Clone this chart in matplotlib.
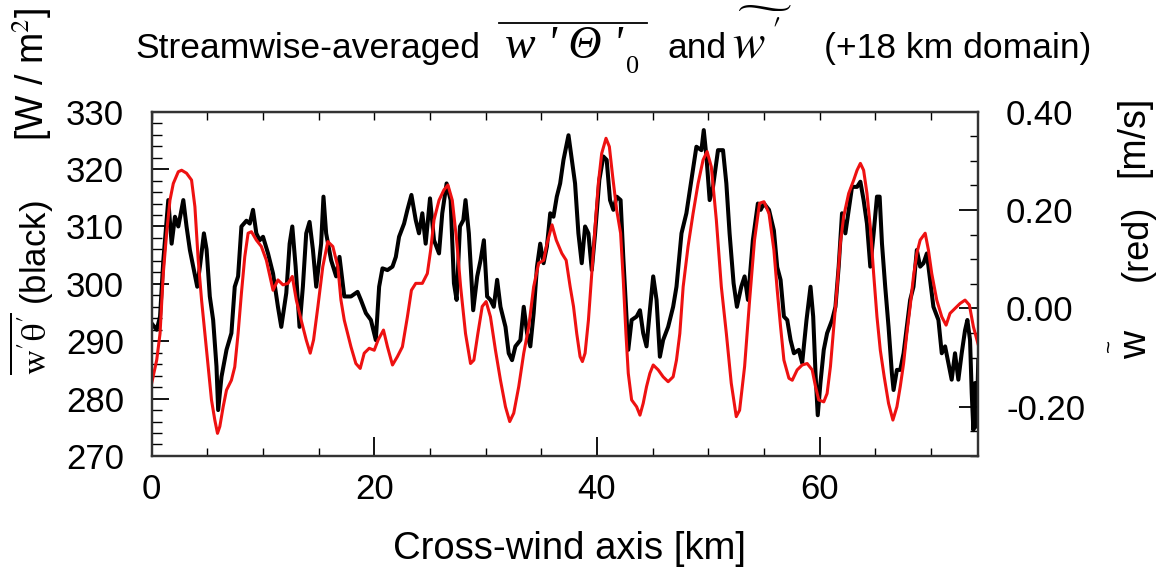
import numpy as np
import matplotlib.pyplot as plt
from matplotlib.lines import Line2D
from matplotlib.ticker import MultipleLocator, FormatStrFormatter

plt.rcParams['font.family'] = ['Liberation Sans', 'DejaVu Sans']
plt.rcParams['mathtext.fontset'] = 'stix'
plt.rcParams['axes.unicode_minus'] = False

# streamwise-averaged surface heat flux w'theta' [W/m2] (black)
flux_km = [0, 0.45, 0.75, 1.04, 1.49, 1.79, 2.09, 2.39, 2.84, 3.13, 3.43, 3.73, 4.09, 4.33, 4.69, 4.93,
           5.22, 5.52, 5.82, 5.97, 6.27, 6.72, 7.16, 7.46, 7.76, 8.06, 8.51, 8.81, 9.10, 9.40, 9.70, 10.0,
           10.45, 10.9, 11.34, 11.64, 12.09, 12.39, 12.63, 12.93, 13.28, 13.58, 13.88, 14.18, 14.48, 14.78,
           15.22, 15.43, 15.67, 16.12, 16.57, 16.87, 17.3, 17.9, 18.49, 18.79, 19.24, 19.69, 20.13, 20.43,
           20.73, 21.18, 21.63, 21.93, 22.22, 22.67, 22.97, 23.33, 23.72, 24.01, 24.31, 24.61, 25.0, 25.36,
           25.81, 26.1, 26.49, 26.85, 27.15, 27.39, 27.69, 27.99, 28.19, 28.49, 28.88, 29.24, 29.54, 29.84,
           30.13, 30.43, 30.73, 31.03, 31.33, 31.78, 32.07, 32.37, 32.67, 33.12, 33.42, 33.72, 34.01, 34.31,
           34.61, 34.9, 35.2, 35.5, 35.8, 36.09, 36.39, 36.69, 36.99, 37.44, 37.74, 38.03, 38.33, 38.63,
           38.93, 39.23, 39.53, 39.83, 40.21, 40.57, 40.87, 41.17, 41.47, 41.77, 42.12, 42.36, 42.6, 42.81,
           43.11, 43.56, 43.86, 44.15, 44.45, 44.75, 45.05, 45.35, 45.65, 45.94, 46.39, 46.84, 47.14, 47.59,
           48.03, 48.48, 48.93, 49.38, 49.59, 49.83, 50.12, 50.42, 50.87, 51.32, 51.62, 51.91, 52.27, 52.57,
           52.96, 53.26, 53.56, 54.0, 54.45, 54.7, 55.0, 55.45, 55.89, 56.19, 56.49, 56.79, 57.09, 57.39,
           57.69, 58.13, 58.43, 58.82, 59.18, 59.42, 59.63, 59.83, 60.07, 60.37, 60.67, 61.12, 61.42, 61.71,
           62.01, 62.31, 62.61, 62.91, 63.36, 63.66, 63.95, 64.25, 64.55, 64.85, 65.15, 65.39, 65.6, 65.89,
           66.19, 66.49, 66.64, 66.94, 67.24, 67.54, 67.83, 68.13, 68.43, 68.73, 69.03, 69.33, 69.63, 69.92,
           70.22, 70.67, 70.97, 71.27, 71.57, 71.86, 72.16, 72.46, 72.76, 73.06, 73.27, 73.51, 73.66, 73.81,
           73.96, 74.1, 74.25]
flux = [293.1, 292.0, 294.3, 304.0, 314.6, 307.0, 311.7, 310.0, 314.6, 310.0, 305.9, 303.0, 299.5, 303.0, 308.8, 306.0,
        297.8, 293.7, 285.6, 278.0, 283.8, 288.5, 291.4, 299.5, 301.3, 310.0, 311.0, 310.5, 312.9, 308.8, 307.6, 308.2,
        305.3, 301.8, 296.0, 292.5, 298.4, 307.0, 310.0, 303.0, 292.5, 299.5, 308.8, 310.8, 306.0, 299.5,
        307.0, 315.2, 308.8, 304.1, 301.3, 304.7, 297.8, 297.8, 298.6, 297.2, 294.9, 293.7, 290.2, 299.5,
        302.7, 302.4, 303.0, 304.7, 308.2, 310.5, 312.9, 315.5, 311.1, 308.8, 312.3, 307.0, 314.9, 307.6,
        305.3, 312.3, 317.5, 314.6, 300.1, 297.2, 310.0, 311.1, 314.6, 308.8, 295.4, 301.3, 304.1, 307.6,
        297.8, 297.2, 296.0, 300.7, 296.0, 292.5, 287.9, 286.7, 289.1, 290.2, 296.0, 291.4, 289.1, 294.9,
        303.0, 307.0, 303.6, 306.5, 312.3, 311.7, 315.2, 317.5, 321.6, 325.9, 321.6, 317.5, 308.8, 303.6,
        310.0, 308.8, 302.4, 308.8, 318.1, 322.2, 321.6, 314.6, 312.9, 315.2, 314.6, 304.7, 296.0, 288.5,
        293.7, 294.3, 295.4, 291.4, 289.1, 295.4, 301.3, 297.2, 287.3, 290.2, 292.5, 296.0, 299.5, 308.8,
        312.3, 318.1, 323.9, 323.3, 326.8, 322.2, 314.6, 316.9, 323.3, 323.3, 317.5, 308.8, 300.1, 296.0,
        299.5, 301.3, 297.2, 307.6, 314.0, 312.9, 314.0, 312.9, 309.3, 302.9, 300.7, 294.3, 293.7, 290.2,
        287.9, 288.5, 286.2, 293.7, 299.5, 294.3, 284.4, 277.1, 282.7, 288.5, 291.4, 293.7, 296.0, 303.0,
        312.3, 308.8, 312.9, 316.9, 316.9, 317.8, 314.6, 310.5, 303.0, 308.8, 315.2, 315.2, 307.0, 299.5,
        292.5, 284.4, 281.5, 285.0, 285.0, 287.9, 292.5, 297.2, 299.5, 305.9, 303.0, 303.6, 305.3, 300.7,
        296.0, 293.7, 287.9, 289.1, 286.2, 283.3, 287.9, 283.3, 287.9, 291.9, 293.7, 290.2, 281.0, 274.5,
        282.7, 275.1, 286.7]

# streamwise-averaged vertical velocity w~ [m/s] (red)
w_km = [0, 0.45, 0.75, 1.04, 1.34, 1.64, 1.94, 2.39, 2.69, 3.13, 3.58, 3.88, 4.18, 4.48, 4.78, 5.07,
        5.37, 5.67, 5.91, 6.12, 6.42, 6.72, 7.16, 7.46, 7.76, 8.06, 8.36, 8.66, 8.96, 9.40, 9.85, 10.3,
        10.9, 11.34, 11.79, 12.24, 12.63, 12.99, 13.43, 13.88, 14.24, 14.54, 14.93, 15.37, 15.82, 16.27,
        16.72, 17.0, 17.3, 17.9, 18.34, 18.73, 19.09, 19.54, 19.99, 20.34, 20.82, 21.18, 21.63, 22.07,
        22.52, 22.97, 23.33, 23.72, 24.31, 24.76, 25.06, 25.36, 25.81, 26.25, 26.61, 27.0, 27.39, 27.75,
        28.19, 28.64, 28.94, 29.3, 29.69, 30.04, 30.43, 30.88, 31.33, 31.78, 32.16, 32.52, 32.97, 33.42,
        33.87, 34.31, 34.76, 35.21, 35.51, 35.96, 36.34, 36.84, 37.23, 37.59, 37.89, 38.18, 38.48, 38.69,
        38.93, 39.23, 39.53, 39.83, 40.12, 40.42, 40.81, 41.11, 41.41, 41.77, 42.12, 42.36, 42.6, 42.81,
        43.11, 43.56, 43.86, 44.15, 44.45, 44.75, 45.05, 45.5, 45.94, 46.39, 46.84, 47.14, 47.44, 47.74,
        48.18, 48.63, 49.08, 49.53, 49.89, 50.27, 50.72, 51.17, 51.62, 52.06, 52.51, 52.81, 53.26, 53.71,
        54.15, 54.6, 55.0, 55.45, 55.89, 56.19, 56.49, 56.79, 57.24, 57.54, 57.98, 58.43, 58.88, 59.33,
        59.63, 59.92, 60.37, 60.67, 60.97, 61.27, 61.57, 61.86, 62.16, 62.61, 63.06, 63.36, 63.66, 63.95,
        64.25, 64.55, 64.85, 65.15, 65.45, 65.8, 66.19, 66.58, 66.94, 67.24, 67.54, 67.83, 68.13, 68.43,
        68.73, 69.03, 69.48, 69.77, 70.07, 70.52, 70.97, 71.36, 71.71, 72.16, 72.61, 73.06, 73.45, 73.81,
        74.25]
w_red = [-0.152, -0.105, -0.051, 0.071, 0.153, 0.220, 0.254, 0.278, 0.281, 0.275, 0.261, 0.207, 0.098, 0.017, -0.051, -0.119,
         -0.186, -0.227, -0.254, -0.240, -0.200, -0.166, -0.146, -0.119, -0.051, 0.031, 0.105, 0.153, 0.156, 0.139, 0.126, 0.098,
         0.037, 0.058, 0.048, 0.051, 0.065, 0.017, -0.024, -0.064, -0.091, -0.064, 0.004, 0.085, 0.136, 0.126,
         0.085, 0.017, -0.024, -0.078, -0.112, -0.122, -0.091, -0.081, -0.085, -0.064, -0.044, -0.078, -0.115, -0.098,
         -0.078, -0.017, 0.037, 0.051, 0.051, 0.071, 0.119, 0.180, 0.220, 0.241, 0.251, 0.220, 0.139, 0.044,
         -0.051, -0.112, -0.105, -0.051, 0.004, 0.014, -0.017, -0.085, -0.146, -0.200, -0.230, -0.213, -0.159, -0.091,
         -0.037, 0.044, 0.092, 0.098, 0.132, 0.170, 0.139, 0.112, 0.098, 0.044, 0.004, -0.051, -0.098, -0.108,
         -0.091, -0.024, 0.071, 0.166, 0.254, 0.315, 0.346, 0.329, 0.268, 0.200, 0.153, 0.058, -0.051, -0.132,
         -0.186, -0.200, -0.217, -0.193, -0.159, -0.132, -0.115, -0.125, -0.139, -0.149, -0.139, -0.105, -0.051, 0.044,
         0.126, 0.193, 0.254, 0.302, 0.319, 0.288, 0.180, 0.044, -0.051, -0.152, -0.220, -0.207, -0.118, 0.017,
         0.139, 0.214, 0.217, 0.193, 0.119, 0.037, -0.037, -0.105, -0.142, -0.146, -0.125, -0.115, -0.112, -0.125,
         -0.159, -0.186, -0.190, -0.173, -0.118, -0.037, 0.044, 0.132, 0.187, 0.234, 0.261, 0.281, 0.295, 0.281,
         0.234, 0.166, 0.071, -0.017, -0.085, -0.139, -0.193, -0.227, -0.200, -0.159, -0.112, -0.051, 0.004, 0.065,
         0.112, 0.139, 0.153, 0.119, 0.071, 0.017, -0.017, -0.034, -0.010, 0.000, 0.010, 0.017, 0.007, -0.037,
         -0.074]

fig = plt.figure(figsize=(11.58, 5.75), dpi=100)
W, H = 1158.0, 575.0
ax = fig.add_axes([0.131, 0.207, 0.7138, 0.5987])
ax.plot(flux_km, flux, color='black', lw=2.9, solid_joinstyle='round')
ax.set_xlim(0, 74.25)
ax.set_ylim(270, 330)

ax2 = ax.twinx()
ax2.plot(w_km, w_red, color='#ee1111', lw=2.2)
ax2.set_ylim(-0.3, 0.4)

for a in (ax, ax2):
    for s in a.spines.values():
        s.set_linewidth(1.6)
        s.set_color('#333333')

ax.xaxis.set_major_locator(MultipleLocator(20))
ax.xaxis.set_minor_locator(MultipleLocator(5))
ax.yaxis.set_major_locator(MultipleLocator(10))
ax.yaxis.set_minor_locator(MultipleLocator(2))
ax.tick_params(axis='x', which='major', direction='in', length=14, width=1.3, labelsize=25, pad=12)
ax.tick_params(axis='x', which='minor', direction='in', length=6, width=1.0)
ax.tick_params(axis='y', which='major', direction='in', length=12, width=1.3, labelsize=25, pad=20)
ax.tick_params(axis='y', which='minor', direction='in', length=7, width=1.0)

top = ax.secondary_xaxis('top')
top.xaxis.set_major_locator(MultipleLocator(5))
top.tick_params(direction='in', length=6, width=1.0, labeltop=False)

ax2.yaxis.set_major_locator(MultipleLocator(0.2))
ax2.yaxis.set_minor_locator(MultipleLocator(0.05))
ax2.yaxis.set_major_formatter(FormatStrFormatter('%.2f'))
ax2.tick_params(axis='y', which='major', direction='in', length=14, width=1.3, labelsize=25, pad=20)
ax2.tick_params(axis='y', which='minor', direction='in', length=6, width=1.0)

# title built from pieces: plain text, then an overlined italic-serif flux term
base = 0.899
renderer = fig.canvas.get_renderer()
fig.text(0.1166, base, 'Streamwise-averaged', ha='left', va='baseline', fontsize=25.5)
flux_sym = fig.text(0.436, base, "w ' \u0398 '", ha='left', va='baseline', fontsize=33,
                    family='Liberation Serif', style='italic')
bb = flux_sym.get_window_extent(renderer)
sub0 = fig.text(bb.x1 / W + 0.003, base - 0.026, '0', ha='left', va='baseline', fontsize=19,
                family='Liberation Serif')
bb0 = sub0.get_window_extent(renderer)
fig.add_artist(Line2D([(bb.x0 - 6) / W, (bb0.x1 + 8) / W], [(bb.y1 + 3) / H] * 2,
                      transform=fig.transFigure, color='black', lw=1.3))
fig.text(0.576, base, 'and', ha='left', va='baseline', fontsize=25.5)
fig.text(0.632, base, r"$\widetilde{w^{\,\prime}}$", ha='left', va='baseline', fontsize=35)
fig.text(0.712, base, '(+18 km domain)', ha='left', va='baseline', fontsize=25.5)

fig.text(0.492, 0.045, 'Cross-wind axis [km]', ha='center', va='center', fontsize=27.5)

fig.text(0.027, 0.50, r"$\overline{\mathrm{w'\theta'}}$ (black)", rotation=90,
         ha='center', va='center', fontsize=25)
fig.text(0.027, 0.87, r"[W / m$^2$]", rotation=90, ha='center', va='center', fontsize=27)
fig.text(0.979, 0.762, '[m/s]', rotation=90, ha='center', va='center', fontsize=27)
fig.text(0.982, 0.577, '(red)', rotation=90, ha='center', va='center', fontsize=26)
fig.text(0.981, 0.40, 'w', rotation=90, ha='center', va='center', fontsize=28)
fig.text(0.958, 0.40, '~', rotation=90, ha='center', va='center', fontsize=16)

fig.savefig('out.png', dpi=100)
